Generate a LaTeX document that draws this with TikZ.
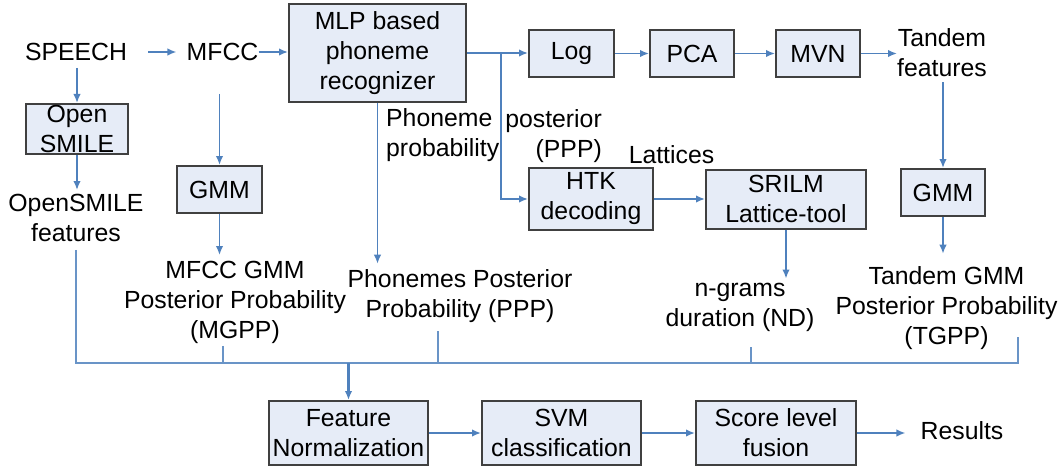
\documentclass[tikz,border=0pt]{standalone}
\usepackage{fontspec}
\setmainfont{Liberation Sans}
\usepackage{tikz}
\usetikzlibrary{positioning, arrows.meta}

\definecolor{flowblue}{RGB}{79,129,189}
\definecolor{boxfill}{RGB}{230,236,247}
\definecolor{boxline}{RGB}{64,64,64}

\begin{document}
\begin{tikzpicture}[x=1pt, y=-1pt, >={Latex[length=9pt,width=7.5pt]},
    every node/.style={font=\fontsize{24.8}{30}\selectfont, align=center, inner sep=0pt},
    box/.style={draw=boxline, line width=2pt, fill=boxfill, minimum height=47pt},
    arr/.style={->, draw=flowblue, line width=1.7pt},
    link/.style={draw=flowblue!85, line width=1.6pt}]
    \useasboundingbox (0,0) rectangle (1064,468);

    % top row
    \node (speech) at (76,52) {SPEECH};
    \node (mfcc) at (222.5,52) {MFCC};
    \node (mlp) [box, minimum width=177pt, minimum height=98pt] at (377.5,53) {MLP based\\phoneme\\recognizer};
    \node (log) [box, minimum width=85pt] at (571.5,53.5) {Log};
    \node (pca) [box, minimum width=84pt, right=34pt of log] {PCA};
    \node (mvn) [box, minimum width=84pt, right=40pt of pca] {MVN};
    \node (tandem) at (942,53) {Tandem\\features};

    % middle row
    \node (smile) [box, minimum width=102pt, minimum height=50pt] at (77,129) {Open\\SMILE};
    \node (gmmA) [box, minimum width=85pt] at (219.5,189.5) {GMM};
    \node (phprob) [anchor=west, align=left] at (386,135.5) {Phoneme\\probability};
    \node (post) [anchor=east, align=right] at (602,136.5) {posterior\\(PPP)};
    \node (lattices) at (671.5,155) {Lattices};
    \node (htk) [box, minimum width=124pt, minimum height=62pt] at (591,199) {HTK\\decoding};
    \node (srilm) [box, minimum width=160pt, minimum height=59pt, right=51pt of htk] {SRILM\\Lattice-tool};
    \node (gmmB) [box, minimum width=84pt] at (943,192.5) {GMM};

    % feature labels
    \node (osf) at (76,218) {OpenSMILE\\features};
    \node (mgpp) at (235,302.5) {MFCC GMM\\Posterior Probability\\(MGPP)};
    \node (ppp) at (460,296.5) {Phonemes Posterior\\Probability (PPP)};
    \node (nd) at (740,307) {n-grams\\duration (ND)};
    \node (tgpp) at (946.5,308.5) {Tandem GMM\\Posterior Probability\\(TGPP)};

    % bottom row
    \node (norm) [box, minimum width=159pt, minimum height=64pt] at (348.5,433) {Feature\\Normalization};
    \node (svm) [box, minimum width=159pt, minimum height=64pt, right=52pt of norm] {SVM\\classification};
    \node (fusion) [box, minimum width=160pt, minimum height=64pt, right=53pt of svm] {Score level\\fusion};
    \node (results) at (962,431) {Results};

    \draw[arr, shorten <=21pt, shorten >=10pt] (speech.east) -- (mfcc.west);
    \draw[arr] (mfcc.east) -- (mfcc.east -| mlp.west);
    \draw[arr] (mlp.east) -- (mlp.east -| log.west);
    \coordinate (split) at (501,53);
    \draw[arr] (split) |- (htk.west);
    \draw[arr] (log) -- (pca);
    \draw[arr] (pca) -- (mvn);
    \draw[arr] (mvn.east) -- (mvn.east -| tandem.west);
    \draw[arr, shorten <=5pt] (gmmB.north |- tandem.south) -- (gmmB.north);
    \draw[arr, shorten >=13pt] (gmmB.south) -- (gmmB.south |- tgpp.north);
    \draw[arr] (htk) -- (srilm);
    \draw[arr, shorten >=4pt] (srilm.south) -- (srilm.south |- nd.north);

    \draw[arr, shorten <=7pt] (speech.south -| smile.north) -- (smile.north);
    \draw[arr, shorten >=4pt] (smile.south) -- (smile.south |- osf.north);
    \draw[arr, shorten <=33pt] (mfcc.south -| gmmA.north) -- (gmmA.north);
    \draw[arr, shorten >=6pt] (gmmA.south) -- (gmmA.south |- mgpp.north);
    \draw[arr, shorten >=6pt] (mlp.south) -- (mlp.south |- ppp.north);

    % collecting line
    \coordinate (busL) at (76,363);
    \coordinate (busR) at (1018,363);
    \coordinate (mgppdrop) at ([xshift=-12pt, yshift=-2pt]mgpp.south);
    \coordinate (pppdrop) at ([xshift=-22pt, yshift=-8pt]ppp.south);
    \coordinate (nddrop) at ([xshift=11pt, yshift=-16pt]nd.south);
    \coordinate (tgppdrop) at ([xshift=71.5pt, yshift=13pt]tgpp.south);
    \draw[link, shorten <=8pt] (osf.south) -- (busL) -- (busR) -- (tgppdrop);
    \draw[link] (mgppdrop) -- (mgppdrop |- busL);
    \draw[link] (pppdrop) -- (pppdrop |- busL);
    \draw[link] (nddrop) -- (nddrop |- busL);
    \draw[arr, line width=2.2pt] (norm.north |- busL) -- (norm.north);

    \draw[arr] (norm) -- (svm);
    \draw[arr] (svm) -- (fusion);
    \draw[arr, shorten >=15pt] (fusion.east) -- (fusion.east -| results.west);
\end{tikzpicture}
\end{document}
